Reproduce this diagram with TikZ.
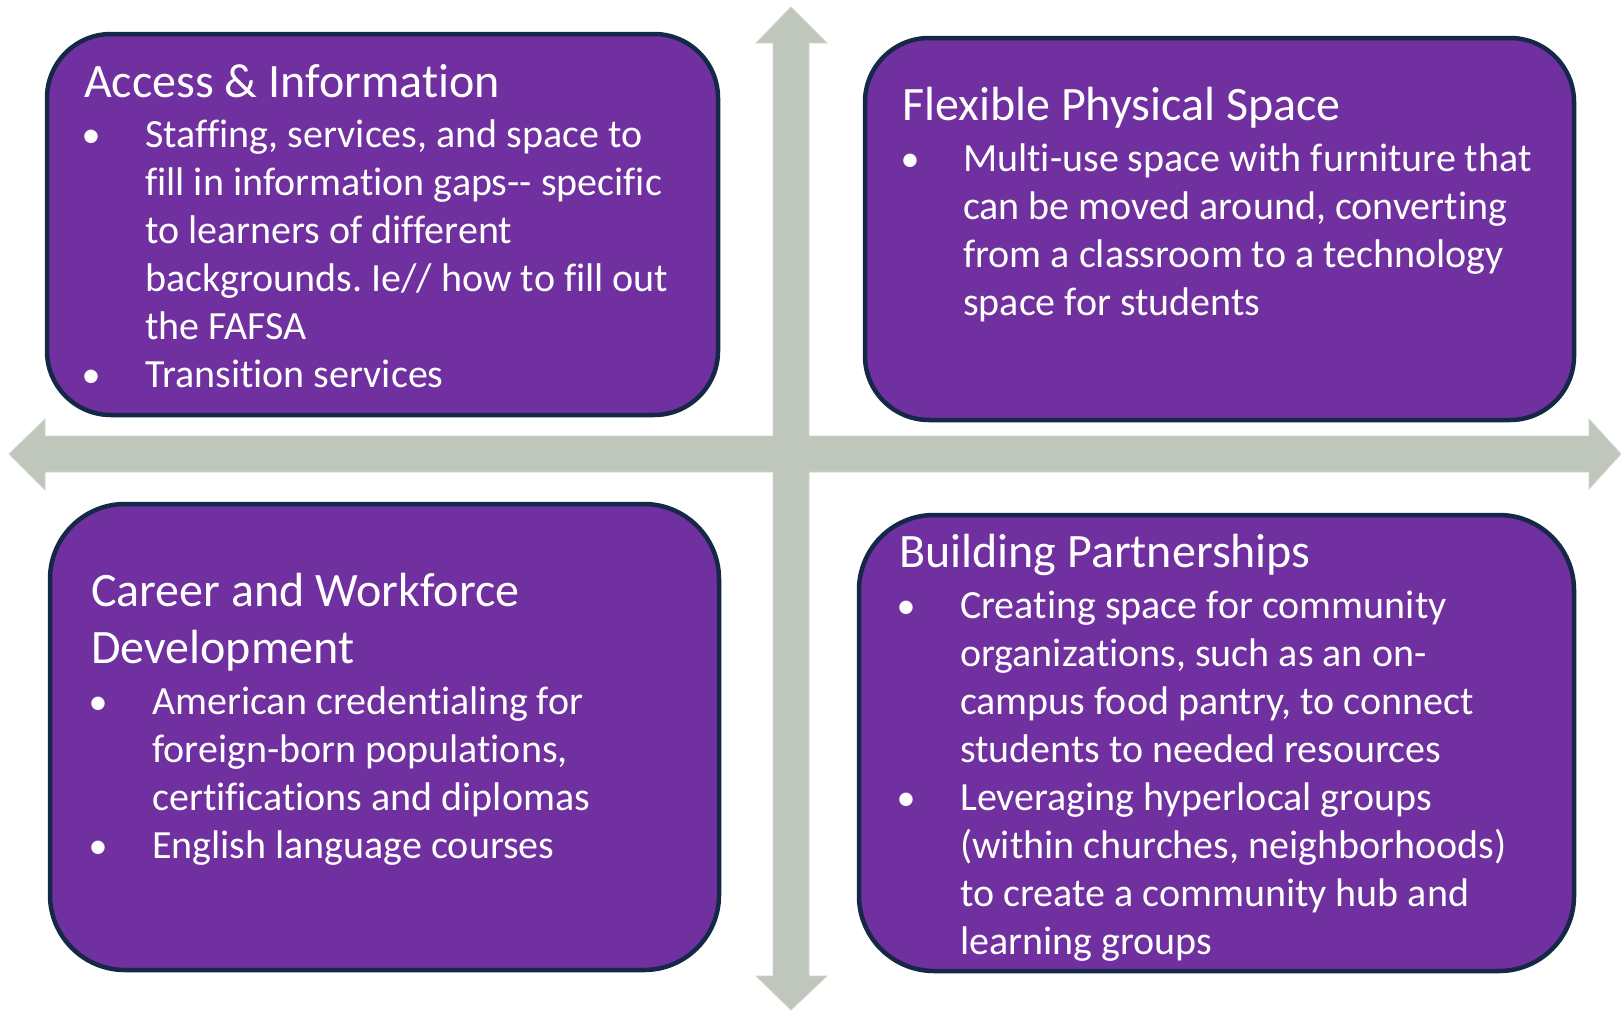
\documentclass[tikz,border=0pt]{standalone}
\usepackage{fontspec}
\setmainfont[Ligatures={NoCommon}]{Carlito}
\frenchspacing
\definecolor{boxfill}{RGB}{112,48,160}
\definecolor{boxline}{RGB}{22,40,72}
\definecolor{arrowfill}{RGB}{191,198,187}
\definecolor{arrowline}{RGB}{208,214,205}
\begin{document}
\begin{tikzpicture}[x=1pt,y=-1pt,
  quad/.style={draw=boxline,fill=boxfill,line width=4.5pt},
  ttl/.style={anchor=base west,inner sep=0pt,text=white,font=\fontsize{48}{57}\selectfont},
  txt/.style={anchor=base west,inner sep=0pt,text=white,font=\fontsize{40}{48}\selectfont},
  bul/.style={anchor=base,inner sep=0pt,text=white,font=\fontsize{38}{48}\selectfont}]
\useasboundingbox (0,0) rectangle (1621,1010);
\fill[white] (0,0) rectangle (1621,1010);
% cross arrows
\filldraw[fill=arrowfill,draw=arrowline,line width=0.8pt]
  (791,7) -- (827,43) -- (809,43) -- (809,436) -- (1589,436) -- (1589,419) -- (1621,454)
  -- (1589,489) -- (1589,472) -- (809,472) -- (809,976) -- (827,976) -- (791,1010)
  -- (756,976) -- (773,976) -- (773,472) -- (45,472) -- (45,490) -- (9,454)
  -- (45,419) -- (45,436) -- (773,436) -- (773,43) -- (756,43) -- cycle;
% boxes
\draw[quad,rounded corners=64pt] (47,34) rectangle (718,415);
\draw[quad,rounded corners=64pt] (865,38) rectangle (1574,420);
\draw[quad,rounded corners=75pt] (50,504) rectangle (719,970);
\draw[quad,rounded corners=75pt] (859,515) rectangle (1574,971);
% box 1
\node[ttl] (t1) at (84,97) {Access \& Information};
\node[bul] (b1a) at (91,147) {•};
\node[bul] (b1b) at (91,387) {•};
\foreach \s [count=\i] in {Staffing{,} services{,} and space to,fill in information gaps-{}- specific,to learners of different,backgrounds. Ie// how to fill out,the FAFSA,Transition services}
  \node[txt] (l1-\i) at (145,{99+48*\i}) {\s};
% box 2
\node[ttl] (t2) at (902,120) {Flexible Physical Space};
\node[bul] (b2a) at (910,171) {•};
\foreach \s [count=\i] in {Multi-use space with furniture that,can be moved around{,} converting,from a classroom to a technology,space for students}
  \node[txt] (l2-\i) at (963,{123+48*\i}) {\s};
% box 3
\node[ttl] (t3a) at (91,606) {Career and Workforce};
\node[ttl] (t3b) at (91,663) {Development};
\node[bul] (b3a) at (98,714) {•};
\node[bul] (b3b) at (98,858) {•};
\foreach \s [count=\i] in {American credentialing for,foreign-born populations{,},certifications and diplomas,English language courses}
  \node[txt] (l3-\i) at (152,{666+48*\i}) {\s};
% box 4
\node[ttl] (t4) at (899,567) {Building Partnerships};
\node[bul] (b4a) at (906,618) {•};
\node[bul] (b4b) at (906,810) {•};
\foreach \s [count=\i] in {Creating space for community,organizations{,} such as an on-,campus food pantry{,} to connect,students to needed resources,Leveraging hyperlocal groups,(within churches{,} neighborhoods),to create a community hub and,learning groups}
  \node[txt] (l4-\i) at (960,{570+48*\i}) {\s};
\end{tikzpicture}
\end{document}
